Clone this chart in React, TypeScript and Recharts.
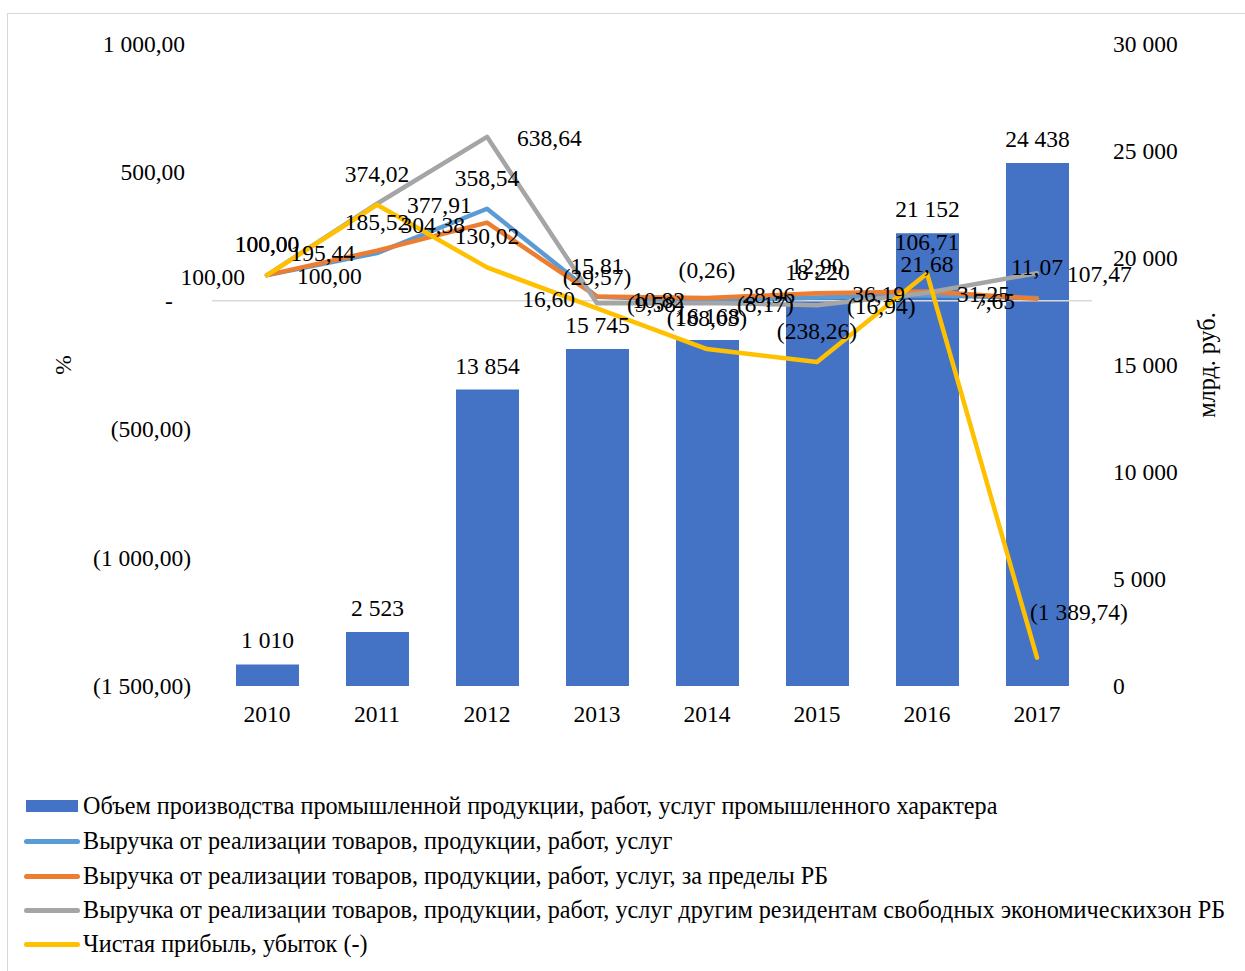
import React from 'react';
import { ComposedChart, Bar, Line, XAxis, YAxis, ReferenceLine, LabelList } from 'recharts';

const years = ['2010', '2011', '2012', '2013', '2014', '2015', '2016', '2017'];
const production = [1010, 2523, 13854, 15745, 16168, 18220, 21152, 24438];
const revenue = [100, 185.52, 358.54, 15.81, -0.26, 12.9, 21.68, 11.07];
const revenueExport = [100, 195.44, 304.38, 16.6, 10.82, 28.96, 36.19, 7.65];
const revenueFez = [100, 377.91, 638.64, -9.58, -8.17, -16.94, 31.25, 107.47];
const netProfit = [100, 374.02, 130.02, -29.57, -188.03, -238.26, 106.71, -1389.74];

const leftTicks = [-1500, -1000, -500, 0, 500, 1000];
const rightTicks = [0, 5000, 10000, 15000, 20000, 25000, 30000];

const seriesNames = [
  'Объем производства промышленной продукции, работ, услуг промышленного характера',
  'Выручка от реализации товаров, продукции, работ, услуг',
  'Выручка от реализации товаров, продукции, работ, услуг, за пределы РБ',
  'Выручка от реализации товаров, продукции, работ, услуг другим резидентам свободных экономическихзон РБ',
  'Чистая прибыль, убыток (-)',
];

const data = years.map((y, i) => ({
  year: y,
  prod: production[i],
  rev: revenue[i],
  exp: revenueExport[i],
  fez: revenueFez[i],
  np: netProfit[i],
}));

const FONT = '"Liberation Serif", "Times New Roman", serif';
const FS = 23.5;
const LEGEND_FS = 24.2;
const COLORS = {
  bar: '#4472C4',
  rev: '#5B9BD5',
  exp: '#ED7D31',
  fez: '#A5A5A5',
  np: '#FFC000',
};

function groupThousands(intStr: string): string {
  return intStr.replace(/\B(?=(\d{3})+(?!\d))/g, ' ');
}

function fmtPct(v: number): string {
  const a = Math.abs(v);
  const [i, d] = a.toFixed(2).split('.');
  const s = groupThousands(i) + ',' + d;
  return v < 0 ? '(' + s + ')' : s;
}

function fmtInt(v: number): string {
  return groupThousands(String(Math.round(v)));
}

type Pos = 'above' | 'left' | 'right' | 'upright';

const makeLabel = (positions: (i: number) => Pos) => (props: any) => {
  const { x, y, value, index } = props;
  if (x == null || y == null) return null;
  const pos = positions(index);
  let tx = x;
  let ty = y;
  let anchor: 'middle' | 'start' | 'end' = 'middle';
  if (pos === 'above') {
    ty = y - 31;
  } else if (pos === 'left') {
    tx = x - 22;
    ty = y + 2;
    anchor = 'end';
  } else if (pos === 'right') {
    tx = x + 30;
    ty = y + 1;
    anchor = 'start';
  } else {
    tx = x - 7;
    ty = y - 46;
    anchor = 'start';
  }
  return (
    <text
      x={tx}
      y={ty}
      textAnchor={anchor}
      dominantBaseline="central"
      fontFamily={FONT}
      fontSize={FS}
      fill="#000"
    >
      {fmtPct(Number(value))}
    </text>
  );
};

const barLabel = (props: any) => {
  const { x, y, width, value } = props;
  return (
    <text
      x={x + width / 2}
      y={y - 24}
      textAnchor="middle"
      dominantBaseline="central"
      fontFamily={FONT}
      fontSize={FS}
      fill="#000"
    >
      {fmtInt(Number(value))}
    </text>
  );
};

const LeftTick = (props: any) => {
  const { x, y, payload } = props;
  const v = payload.value;
  if (v === 0) {
    return (
      <text x={x - 43} y={y} textAnchor="middle" dominantBaseline="central" fontFamily={FONT} fontSize={FS} fill="#000">
        -
      </text>
    );
  }
  const end = v < 0 ? x - 21 : x - 27;
  return (
    <text x={end} y={y} textAnchor="end" dominantBaseline="central" fontFamily={FONT} fontSize={FS} fill="#000">
      {fmtPct(v)}
    </text>
  );
};

const RightTick = (props: any) => {
  const { x, y, payload } = props;
  return (
    <text x={x} y={y} textAnchor="start" dominantBaseline="central" fontFamily={FONT} fontSize={FS} fill="#000">
      {fmtInt(payload.value)}
    </text>
  );
};

const XTick = (props: any) => {
  const { x, y, payload } = props;
  return (
    <text x={x} y={y + 28} textAnchor="middle" dominantBaseline="central" fontFamily={FONT} fontSize={FS} fill="#000">
      {payload.value}
    </text>
  );
};

const legendRows = [
  { name: seriesNames[0], color: COLORS.bar, kind: 'bar' },
  { name: seriesNames[1], color: COLORS.rev, kind: 'line' },
  { name: seriesNames[2], color: COLORS.exp, kind: 'line' },
  { name: seriesNames[3], color: COLORS.fez, kind: 'line' },
  { name: seriesNames[4], color: COLORS.np, kind: 'line' },
];

export default function App() {
  return (
    <div
      style={{
        position: 'absolute',
        left: 0,
        top: 0,
        width: 1245,
        height: 971,
        overflow: 'hidden',
        background: '#fff',
      }}
    >
      <div
        style={{
          position: 'absolute',
          left: 7,
          top: 13,
          width: 1260,
          height: 980,
          border: '1.5px solid #d9d9d9',
          boxSizing: 'border-box',
        }}
      />
      <div style={{ position: 'absolute', left: 0, top: 0 }}>
        <ComposedChart
          width={1245}
          height={971}
          data={data}
          margin={{ top: 44, right: 0, bottom: 245, left: 0 }}
        >
          <XAxis
            dataKey="year"
            height={40}
            axisLine={false}
            tickLine={false}
            tickSize={0}
            tickMargin={0}
            tick={<XTick />}
            interval={0}
          />
          <YAxis
            yAxisId="left"
            orientation="left"
            width={212}
            domain={[-1500, 1000]}
            ticks={leftTicks}
            axisLine={false}
            tickLine={false}
            tickSize={0}
            tickMargin={0}
            tick={<LeftTick />}
            interval={0}
          />
          <YAxis
            yAxisId="right"
            orientation="right"
            width={153}
            domain={[0, 30000]}
            ticks={rightTicks}
            axisLine={false}
            tickLine={false}
            tickSize={0}
            tickMargin={21}
            tick={<RightTick />}
            interval={0}
          />
          <Bar yAxisId="right" dataKey="prod" fill={COLORS.bar} barSize={63} isAnimationActive={false}>
            <LabelList dataKey="prod" content={barLabel} />
          </Bar>
          <ReferenceLine yAxisId="left" y={0} stroke="#d9d9d9" strokeWidth={1.5} />
          <Line
            yAxisId="left"
            type="linear"
            dataKey="rev"
            stroke={COLORS.rev}
            strokeWidth={4.5}
            dot={false}
            strokeLinejoin="round"
            strokeLinecap="round"
            isAnimationActive={false}
          >
            <LabelList dataKey="rev" content={makeLabel(() => 'above')} />
          </Line>
          <Line
            yAxisId="left"
            type="linear"
            dataKey="exp"
            stroke={COLORS.exp}
            strokeWidth={4.5}
            dot={false}
            strokeLinejoin="round"
            strokeLinecap="round"
            isAnimationActive={false}
          >
            <LabelList dataKey="exp" content={makeLabel(() => 'left')} />
          </Line>
          <Line
            yAxisId="left"
            type="linear"
            dataKey="fez"
            stroke={COLORS.fez}
            strokeWidth={4.5}
            dot={false}
            strokeLinejoin="round"
            strokeLinecap="round"
            isAnimationActive={false}
          >
            <LabelList dataKey="fez" content={makeLabel(() => 'right')} />
          </Line>
          <Line
            yAxisId="left"
            type="linear"
            dataKey="np"
            stroke={COLORS.np}
            strokeWidth={4.5}
            dot={false}
            strokeLinejoin="round"
            strokeLinecap="round"
            isAnimationActive={false}
          >
            <LabelList dataKey="np" content={makeLabel((i) => (i === 7 ? 'upright' : 'above'))} />
          </Line>
        </ComposedChart>
      </div>
      <div
        style={{
          position: 'absolute',
          left: 63,
          top: 365,
          transform: 'translate(-50%, -50%) rotate(-90deg)',
          fontFamily: FONT,
          fontSize: FS,
          whiteSpace: 'nowrap',
        }}
      >
        %
      </div>
      <div
        style={{
          position: 'absolute',
          left: 1207,
          top: 365,
          transform: 'translate(-50%, -50%) rotate(-90deg)',
          fontFamily: FONT,
          fontSize: LEGEND_FS,
          whiteSpace: 'nowrap',
        }}
      >
        млрд. руб.
      </div>
      {legendRows.map((r, i) => {
        const cy = [806, 841, 876, 910, 944][i];
        return (
          <div key={i}>
            {r.kind === 'bar' ? (
              <div
                style={{
                  position: 'absolute',
                  left: 26,
                  top: cy - 6,
                  width: 52,
                  height: 12,
                  background: r.color,
                }}
              />
            ) : (
              <div
                style={{
                  position: 'absolute',
                  left: 24,
                  top: cy - 2.5,
                  width: 56,
                  height: 5,
                  borderRadius: 3,
                  background: r.color,
                }}
              />
            )}
            <div
              style={{
                position: 'absolute',
                left: 83,
                top: cy,
                transform: 'translateY(-50%)',
                fontFamily: FONT,
                fontSize: LEGEND_FS,
                whiteSpace: 'nowrap',
                lineHeight: 1,
                color: '#000',
              }}
            >
              {r.name}
            </div>
          </div>
        );
      })}
    </div>
  );
}
